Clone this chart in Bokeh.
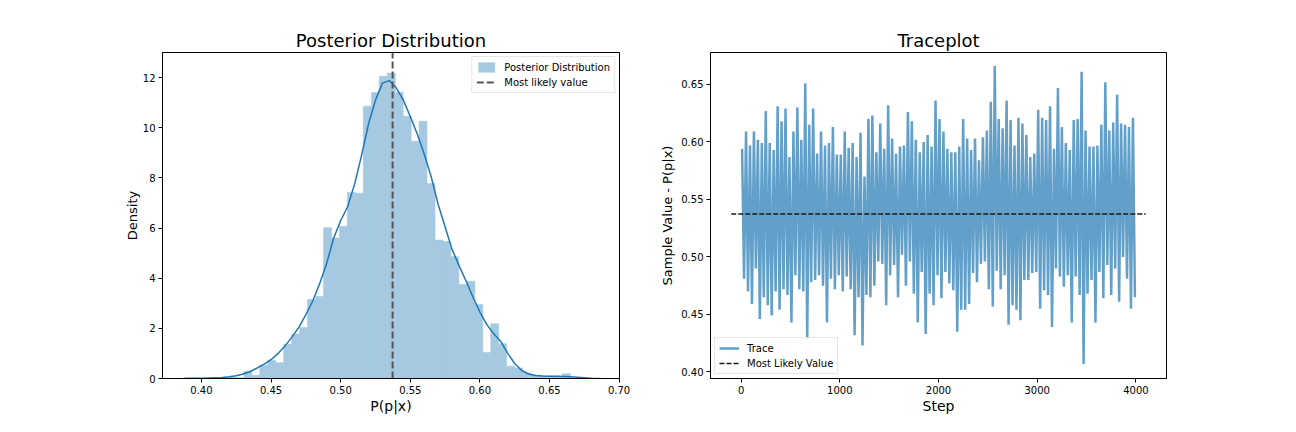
from bokeh.plotting import figure
from bokeh.layouts import row
from bokeh.models import Range1d, FixedTicker, NumeralTickFormatter
from bokeh.embed import file_html
from bokeh.resources import INLINE

# ---------------- data ----------------
most_likely = 0.5373

hist_edges = [0.4076, 0.4133, 0.4190, 0.4248, 0.4305, 0.4362, 0.4419, 0.4476, 0.4534, 0.4591,
              0.4648, 0.4705, 0.4762, 0.4820, 0.4877, 0.4934, 0.4991, 0.5048, 0.5106, 0.5163,
              0.5220, 0.5277, 0.5334, 0.5392, 0.5449, 0.5506, 0.5563, 0.5620, 0.5678, 0.5735,
              0.5792, 0.5849, 0.5906, 0.5964, 0.6021, 0.6078, 0.6135, 0.6192, 0.6250, 0.6307,
              0.6364, 0.6421, 0.6478, 0.6536, 0.6593, 0.6650]
hist_density = [0.04, 0.00, 0.04, 0.04, 0.29, 0.13, 0.53, 0.73, 0.63, 1.37,
                1.77, 2.03, 3.15, 3.27, 6.01, 5.60, 6.07, 7.42, 7.39, 10.86,
                11.40, 12.05, 12.18, 11.41, 10.46, 9.46, 10.26, 7.78, 5.52, 5.46,
                4.86, 3.75, 3.88, 2.95, 1.04, 2.18, 1.39, 0.49, 0.42, 0.22,
                0.13, 0.10, 0.09, 0.09, 0.19]

kde_x = [0.387, 0.390, 0.395, 0.400, 0.405, 0.410, 0.415, 0.420, 0.425, 0.430,
         0.435, 0.440, 0.445, 0.450, 0.455, 0.460, 0.465, 0.470, 0.475, 0.480,
         0.485, 0.490, 0.495, 0.500, 0.505, 0.510, 0.515, 0.520, 0.525, 0.530,
         0.535, 0.540, 0.545, 0.550, 0.555, 0.560, 0.565, 0.570, 0.575, 0.580,
         0.585, 0.590, 0.595, 0.600, 0.605, 0.610, 0.615, 0.620, 0.625, 0.630,
         0.635, 0.640, 0.645, 0.650, 0.655, 0.660, 0.665, 0.670, 0.675, 0.680, 0.686]
kde_y = [0.00, 0.01, 0.01, 0.01, 0.02, 0.03, 0.04, 0.07, 0.11, 0.18,
         0.28, 0.42, 0.57, 0.75, 1.00, 1.30, 1.65, 2.05, 2.55, 3.10,
         3.80, 4.60, 5.60, 6.30, 6.85, 7.75, 8.90, 10.15, 11.10, 11.78,
         11.88, 11.58, 11.10, 10.45, 9.75, 8.95, 8.05, 6.95, 6.05, 5.15,
         4.50, 3.90, 3.25, 2.65, 2.15, 1.78, 1.48, 1.00, 0.60, 0.32,
         0.18, 0.12, 0.10, 0.09, 0.09, 0.08, 0.07, 0.05, 0.03, 0.01, 0.00]

# trace: per 40-step block, the highest and lowest sample
trace_block = 40
trace_hi = [0.594, 0.609, 0.597, 0.609, 0.602, 0.599, 0.627, 0.599, 0.593, 0.631,
            0.618, 0.629, 0.587, 0.609, 0.630, 0.602, 0.651, 0.615, 0.629, 0.590,
            0.609, 0.597, 0.599, 0.613, 0.589, 0.589, 0.609, 0.595, 0.599, 0.587,
            0.608, 0.570, 0.620, 0.623, 0.591, 0.616, 0.594, 0.632, 0.603, 0.590,
            0.596, 0.597, 0.626, 0.618, 0.602, 0.591, 0.600, 0.606, 0.596, 0.636,
            0.620, 0.609, 0.594, 0.591, 0.591, 0.596, 0.620, 0.603, 0.593, 0.603,
            0.584, 0.604, 0.610, 0.635, 0.666, 0.620, 0.612, 0.636, 0.619, 0.597,
            0.621, 0.616, 0.606, 0.587, 0.590, 0.628, 0.621, 0.619, 0.631, 0.594,
            0.647, 0.613, 0.599, 0.593, 0.619, 0.620, 0.661, 0.610, 0.596, 0.596,
            0.597, 0.615, 0.652, 0.610, 0.617, 0.641, 0.616, 0.615, 0.613, 0.621]
trace_lo = [0.481, 0.470, 0.459, 0.490, 0.446, 0.465, 0.458, 0.449, 0.470, 0.454,
            0.472, 0.467, 0.443, 0.484, 0.472, 0.470, 0.428, 0.478, 0.480, 0.484,
            0.475, 0.443, 0.481, 0.472, 0.484, 0.470, 0.483, 0.472, 0.432, 0.465,
            0.423, 0.467, 0.465, 0.475, 0.496, 0.494, 0.458, 0.484, 0.493, 0.465,
            0.502, 0.475, 0.496, 0.468, 0.443, 0.487, 0.433, 0.468, 0.458, 0.484,
            0.464, 0.487, 0.477, 0.471, 0.435, 0.454, 0.454, 0.459, 0.486, 0.478,
            0.494, 0.496, 0.472, 0.457, 0.488, 0.472, 0.484, 0.441, 0.458, 0.454,
            0.445, 0.480, 0.480, 0.486, 0.487, 0.455, 0.471, 0.467, 0.439, 0.490,
            0.483, 0.474, 0.484, 0.443, 0.483, 0.467, 0.407, 0.468, 0.480, 0.443,
            0.487, 0.464, 0.493, 0.467, 0.490, 0.461, 0.500, 0.481, 0.455, 0.465]
hline_start, hline_end = -100, 4100

# ---------------- styling helpers ----------------
FONT = "DejaVu Sans"
BLUE = "#1f77b4"
HIST_BLUE = "#a5c9e1"    # #1f77b4 at 40% opacity on white


def style(p, xlabel, ylabel, xl_size, yl_size, y_standoff):
    p.title.align = "center"
    p.title.text_font = FONT
    p.title.text_font_size = "18px"
    p.title.text_font_style = "normal"
    p.title.text_color = "black"
    p.title.standoff = 3
    p.xgrid.grid_line_color = None
    p.ygrid.grid_line_color = None
    p.outline_line_color = "black"
    p.outline_line_width = 1
    p.outline_line_alpha = 1
    p.background_fill_color = "white"
    p.border_fill_color = "white"
    for ax in (p.xaxis[0], p.yaxis[0]):
        ax.axis_line_color = "black"
        ax.major_tick_line_color = "black"
        ax.major_tick_out = 4
        ax.major_tick_in = 0
        ax.minor_tick_line_color = None
        ax.major_label_text_font = FONT
        ax.major_label_text_font_size = "10px"
        ax.major_label_text_color = "black"
        ax.major_label_standoff = 3
        ax.axis_label_text_font = FONT
        ax.axis_label_text_font_style = "normal"
        ax.axis_label_text_color = "black"
    p.xaxis[0].axis_label = xlabel
    p.yaxis[0].axis_label = ylabel
    p.xaxis[0].axis_label_text_font_size = xl_size
    p.yaxis[0].axis_label_text_font_size = yl_size
    p.xaxis[0].axis_label_standoff = 1
    p.yaxis[0].axis_label_standoff = y_standoff


def style_legend(p, loc):
    lg = p.legend[0]
    lg.location = loc
    lg.margin = 4
    lg.padding = 4
    lg.spacing = 3
    lg.label_height = 12
    lg.glyph_height = 12
    lg.glyph_width = 20
    lg.label_standoff = 8
    lg.label_text_font = FONT
    lg.label_text_font_size = "10px"
    lg.label_text_color = "black"
    lg.border_line_color = "#cccccc"
    lg.border_line_width = 1
    lg.background_fill_alpha = 0.8


# ---------------- left: posterior ----------------
y1_lo, y1_hi = 0.0, 13.0
p1 = figure(width=648, height=416, output_backend="svg", toolbar_location=None,
            x_range=Range1d(0.372, 0.7003), y_range=Range1d(y1_lo, y1_hi),
            min_border_left=162, min_border_right=29, min_border_top=52, min_border_bottom=38,
            title="Posterior Distribution")
p1.quad(left=hist_edges[:-1], right=hist_edges[1:], top=hist_density, bottom=0,
        fill_color=HIST_BLUE, line_color=HIST_BLUE, line_width=0.6,
        legend_label="Posterior Distribution")
p1.line(kde_x, kde_y, line_color=BLUE, line_width=1.5)
p1.segment(x0=[most_likely], y0=[y1_lo], x1=[most_likely], y1=[y1_hi],
           line_color="#555555", line_width=2, line_dash="7 3",
           legend_label="Most likely value")
style(p1, "P(p|x)", "Density", "14px", "13px", 0)
p1.xaxis[0].ticker = FixedTicker(ticks=[0.40, 0.45, 0.50, 0.55, 0.60, 0.65, 0.70])
p1.xaxis[0].formatter = NumeralTickFormatter(format="0.00")
p1.yaxis[0].ticker = FixedTicker(ticks=[0, 2, 4, 6, 8, 10, 12])
style_legend(p1, "top_right")

# ---------------- right: traceplot ----------------
steps, values = [], []
for k, (hi, lo) in enumerate(zip(trace_hi, trace_lo)):
    steps += [k * trace_block + 10, k * trace_block + 30]
    values += [hi, lo]

p2 = figure(width=632, height=416, output_backend="svg", toolbar_location=None,
            x_range=Range1d(-310, 4310), y_range=Range1d(0.3943, 0.6778),
            min_border_left=62, min_border_right=114, min_border_top=52, min_border_bottom=38,
            title="Traceplot")
p2.line(steps, values, line_color=BLUE, line_alpha=0.7, line_width=2.5, legend_label="Trace")
p2.segment(x0=[hline_start], y0=[most_likely], x1=[hline_end], y1=[most_likely],
           line_color="#1a1a1a", line_width=1.5, line_dash="5 2",
           legend_label="Most Likely Value")
style(p2, "Step", "Sample Value - P(p|x)", "14px", "13px", 3)
p2.xaxis[0].ticker = FixedTicker(ticks=[0, 1000, 2000, 3000, 4000])
p2.yaxis[0].ticker = FixedTicker(ticks=[0.40, 0.45, 0.50, 0.55, 0.60, 0.65])
p2.yaxis[0].formatter = NumeralTickFormatter(format="0.00")
style_legend(p2, "bottom_left")

layout = row(p1, p2)
open("out.html", "w").write(file_html(layout, INLINE))
